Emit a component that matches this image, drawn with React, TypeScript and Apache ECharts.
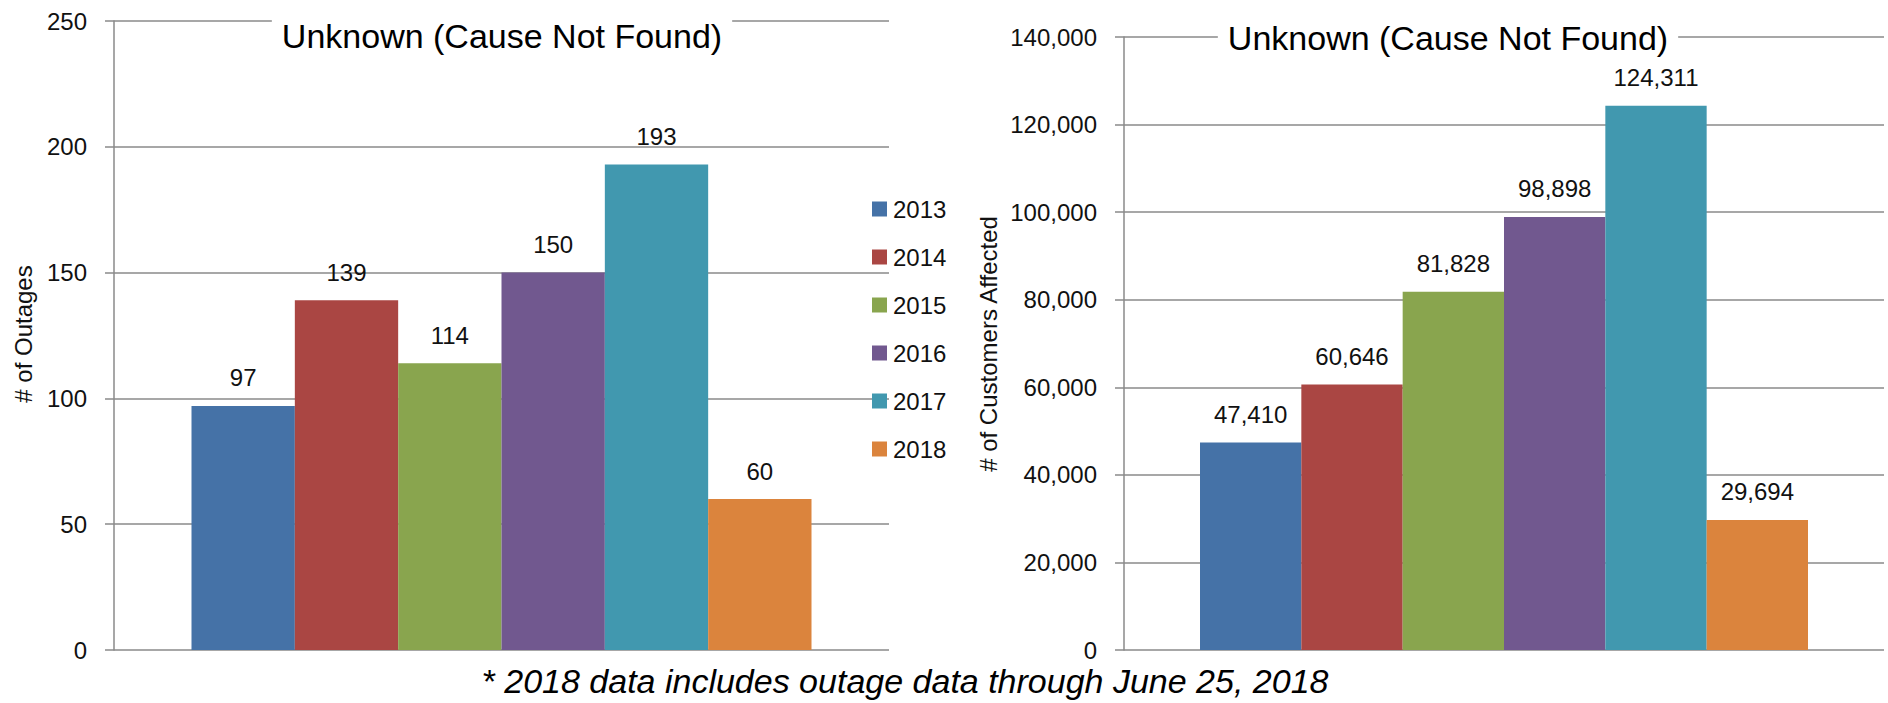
import React, { useEffect, useRef } from "react";
import * as echarts from "echarts";

const years = ["2013", "2014", "2015", "2016", "2017", "2018"];
const outages = [97, 139, 114, 150, 193, 60];
const customers = [47410, 60646, 81828, 98898, 124311, 29694];
const colors = ["#4572A7", "#AA4643", "#89A54E", "#71588F", "#4198AF", "#DB843D"];
const category = ["Unknown (Cause Not Found)"];
const chartTitle = "Unknown (Cause Not Found)";
const leftAxisName = "# of Outages";
const rightAxisName = "# of Customers Affected";
const footnote = "* 2018 data includes outage data through June 25, 2018";

const FONT = "'Liberation Sans', Arial, sans-serif";
const GRID_COLOR = "#8a8a8a";

const fmt = (v: number) => v.toLocaleString("en-US");

export default function App() {
  const ref = useRef<HTMLDivElement>(null);
  useEffect(() => {
    if (!ref.current) return;
    const chart = echarts.init(ref.current, null, { renderer: "svg" });

    const yAxisCommon = {
      type: "value",
      axisLine: { show: true, lineStyle: { color: GRID_COLOR, width: 1.5 } },
      axisTick: { show: true, length: 9, inside: false, lineStyle: { color: GRID_COLOR, width: 1.5 } },
      splitLine: { show: true, lineStyle: { color: GRID_COLOR, width: 1.5 } },
      axisLabel: { fontFamily: FONT, fontSize: 24, color: "#111", margin: 27 },
    };
    const xAxisCommon = {
      type: "category",
      data: category,
      axisLine: { show: false },
      axisTick: { show: false },
      axisLabel: { show: false },
      splitLine: { show: false },
    };

    const makeSeries = (vals: number[], axisIdx: number, isCustomers: boolean) =>
      years.map((y, i) => ({
        type: "bar",
        name: y,
        xAxisIndex: axisIdx,
        yAxisIndex: axisIdx,
        data: [vals[i]],
        itemStyle: { color: colors[i] },
        barGap: "0%",
        barCategoryGap: "20%",
        label: {
          show: true,
          position: "top",
          distance: 16,
          fontFamily: FONT,
          fontSize: 24,
          color: "#111",
          formatter: (p: any) => (isCustomers ? fmt(p.value) : String(p.value)),
        },
      }));

    chart.setOption({
      animation: false,
      backgroundColor: "#fff",
      grid: [
        { left: 114, right: 1888 - 889, top: 21, bottom: 703 - 650 },
        { left: 1124, right: 1888 - 1884, top: 37, bottom: 703 - 650 },
      ],
      xAxis: [
        { ...xAxisCommon, gridIndex: 0 },
        { ...xAxisCommon, gridIndex: 1 },
      ],
      yAxis: [
        { ...yAxisCommon, gridIndex: 0, min: 0, max: 250, interval: 50 },
        {
          ...yAxisCommon,
          gridIndex: 1,
          min: 0,
          max: 140000,
          interval: 20000,
          axisLabel: { ...yAxisCommon.axisLabel, formatter: (v: number) => fmt(v) },
        },
      ],
      legend: {
        data: years,
        orient: "vertical",
        left: 872,
        top: 197,
        padding: 0,
        itemWidth: 15,
        itemHeight: 15,
        itemGap: 24,
        icon: "rect",
        selectedMode: false,
        textStyle: { fontFamily: FONT, fontSize: 24, color: "#111", lineHeight: 24, padding: [0, 0, 0, 1] },
      },
      series: [...makeSeries(outages, 0, false), ...makeSeries(customers, 1, true)],
      graphic: [
        {
          type: "text",
          x: 502,
          y: 35.5,
          z: 100,
          style: {
            text: chartTitle,
            fontFamily: FONT,
            fontSize: 34,
            fill: "#000",
            align: "center",
            verticalAlign: "middle",
            backgroundColor: "#fff",
            padding: [2, 10, 2, 10],
          },
        },
        {
          type: "text",
          x: 1448,
          y: 37.5,
          z: 100,
          style: {
            text: chartTitle,
            fontFamily: FONT,
            fontSize: 34,
            fill: "#000",
            align: "center",
            verticalAlign: "middle",
            backgroundColor: "#fff",
            padding: [2, 10, 2, 10],
          },
        },
        {
          type: "text",
          x: 23,
          y: 334,
          rotation: Math.PI / 2,
          style: {
            text: leftAxisName,
            fontFamily: FONT,
            fontSize: 24,
            fill: "#111",
            align: "center",
            verticalAlign: "middle",
          },
        },
        {
          type: "text",
          x: 988,
          y: 344,
          rotation: Math.PI / 2,
          style: {
            text: rightAxisName,
            fontFamily: FONT,
            fontSize: 24,
            fill: "#111",
            align: "center",
            verticalAlign: "middle",
          },
        },
        {
          type: "text",
          x: 905,
          y: 681,
          style: {
            text: footnote,
            fontFamily: FONT,
            fontSize: 34,
            fontStyle: "italic",
            fill: "#000",
            align: "center",
            verticalAlign: "middle",
          },
        },
      ],
    });
    return () => chart.dispose();
  }, []);

  return (
    <div
      ref={ref}
      style={{ position: "absolute", left: 0, top: 0, width: 1888, height: 703, background: "#fff" }}
    />
  );
}
